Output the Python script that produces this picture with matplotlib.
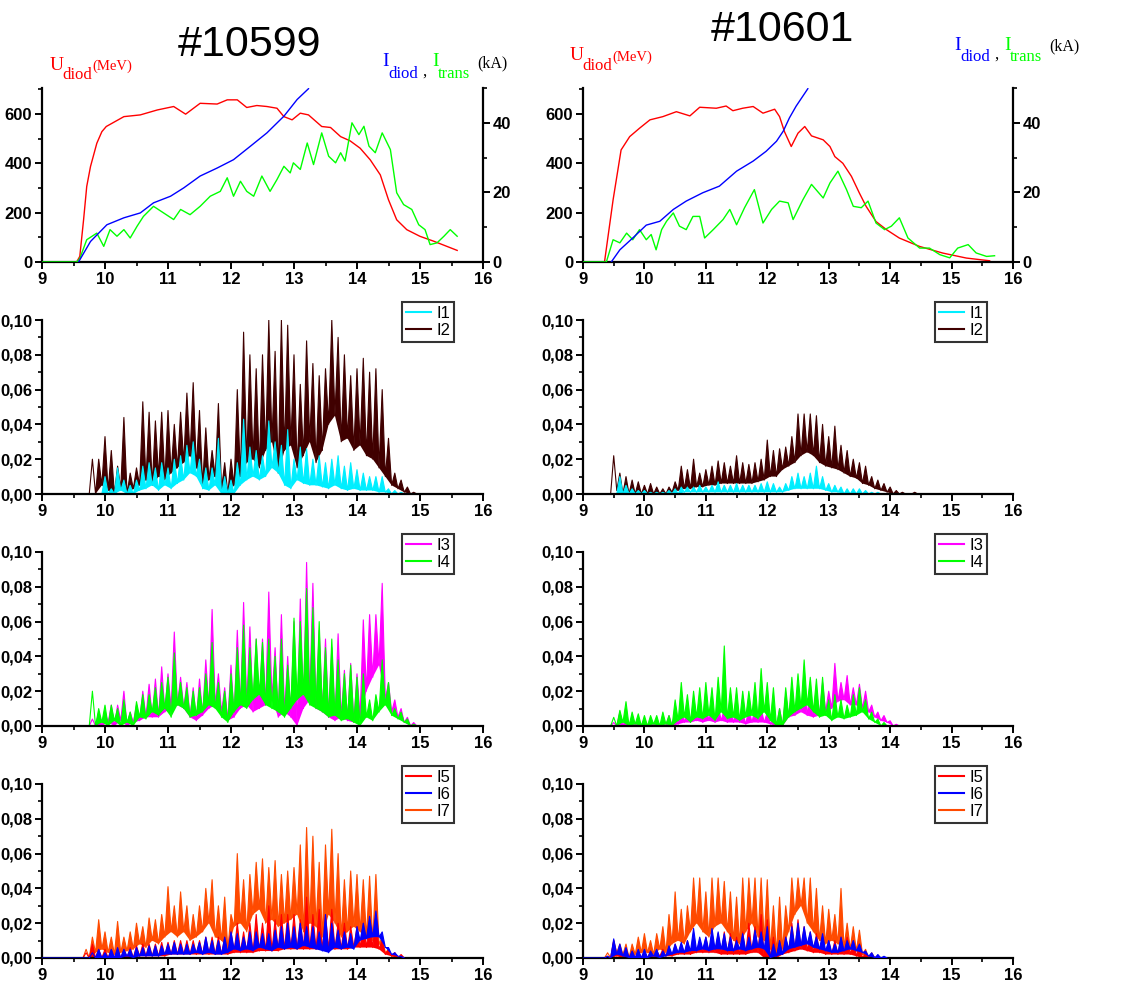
import matplotlib
matplotlib.use("Agg")
import matplotlib.pyplot as plt
import numpy as np
from matplotlib.ticker import MultipleLocator, FuncFormatter
from matplotlib.font_manager import FontProperties

# ---------------- top panels: diode voltage / currents ----------------
# shot 10599
u_t_a = [9.0, 9.55, 9.6, 9.66, 9.71, 9.77, 9.87, 9.95, 10.02, 10.3, 10.56, 10.83, 11.09, 11.28,
         11.51, 11.78, 11.94, 12.1, 12.25, 12.41, 12.57, 12.73, 12.84, 12.97, 13.1, 13.23,
         13.44, 13.58, 13.74, 13.89, 14.05, 14.21, 14.37, 14.5, 14.63, 14.79, 15.0, 15.22, 15.59]
u_a = [0, 0, 23, 171, 306, 387, 481, 528, 549, 589, 596, 616, 630, 599,
       643, 640, 657, 657, 626, 634, 630, 623, 589, 576, 603, 596,
       549, 545, 508, 491, 461, 414, 353, 252, 171, 131, 104, 84, 47]
idiod_t_a = [9.58, 9.77, 10.03, 10.3, 10.56, 10.77, 11.04, 11.25, 11.51, 11.78, 12.04,
             12.31, 12.57, 12.84, 13.05, 13.23]
idiod_a = [0, 5.9, 10.7, 12.7, 14.1, 17, 18.9, 21.3, 24.7, 27, 29.4, 33.3, 37.1, 41.9, 46.7, 49.8]
itrans_t_a = [9.0, 9.55, 9.6, 9.71, 9.87, 9.98, 10.08, 10.19, 10.3, 10.4, 10.51, 10.61, 10.77,
              10.93, 11.09, 11.2, 11.35, 11.51, 11.67, 11.83, 11.94, 12.04, 12.15,
              12.25, 12.36, 12.49, 12.62, 12.73, 12.84, 12.94, 12.99, 13.1, 13.21,
              13.31, 13.44, 13.55, 13.66, 13.74, 13.81, 13.92, 14.03, 14.11, 14.19,
              14.29, 14.4, 14.53, 14.63, 14.74, 14.87, 14.98, 15.08, 15.16, 15.27,
              15.38, 15.48, 15.59]
itrans_a = [0, 0, 1, 6.4, 8.3, 4.5, 9.3, 7.4, 9.3, 6.9, 10.3, 13.1, 16,
            14.1, 12.2, 15.1, 13.6, 16, 18.9, 20.3, 24.2, 18.9, 23.2,
            20.3, 18.9, 24.7, 20.3, 23.7, 27.5, 25.6, 28.5, 26.6, 34.2,
            28, 37.1, 30.4, 28.5, 31.4, 29, 40, 36.6, 39, 33.3,
            31.4, 37.1, 32.3, 19.9, 16.5, 15.1, 10.7, 9.3, 5, 5.5,
            7.4, 9.3, 7.4]

# shot 10601
u_t_b = [9.0, 9.35, 9.49, 9.62, 9.76, 9.92, 10.09, 10.3, 10.52, 10.74, 10.9, 11.17, 11.33,
         11.44, 11.6, 11.77, 11.93, 12.12, 12.2, 12.28, 12.39, 12.5, 12.61, 12.72,
         12.91, 13.02, 13.1, 13.23, 13.37, 13.5, 13.61, 13.77, 13.94, 14.15, 14.48,
         14.86, 15.24, 15.62]
u_b = [0, 0, 252, 454, 508, 542, 576, 589, 609, 592, 627, 623, 632,
       613, 623, 630, 603, 619, 589, 528, 468, 522, 549, 511,
       495, 468, 427, 400, 347, 279, 225, 164, 131, 97, 63,
       36, 16, 5]
idiod_t_b = [9.46, 9.6, 9.81, 10.03, 10.25, 10.47, 10.68, 10.95, 11.22, 11.5, 11.77, 11.98,
             12.15, 12.26, 12.36, 12.47, 12.66]
idiod_b = [0, 3.5, 6.9, 10.6, 11.7, 15.1, 17.5, 19.9, 21.8, 26.1, 29, 31.8, 34.7, 37.6, 41.4,
           44.8, 49.8]
itrans_t_b = [9.0, 9.38, 9.49, 9.6, 9.71, 9.81, 9.92, 10.03, 10.11, 10.19, 10.28,
              10.36, 10.47, 10.57, 10.68, 10.79, 10.9, 10.98, 11.12, 11.28, 11.39,
              11.5, 11.63, 11.79, 11.93, 12.07, 12.2, 12.34, 12.42, 12.58, 12.72,
              12.91, 13.02, 13.15, 13.29, 13.4, 13.53, 13.64, 13.77, 13.91, 14.02,
              14.15, 14.29, 14.48, 14.64, 14.81, 14.97, 15.1, 15.27, 15.4, 15.57, 15.7]
itrans_b = [0, 0, 6.4, 5.5, 8.3, 6.4, 9.3, 6.4, 7.9, 3.5, 9.3,
            11.7, 14.1, 10.3, 9.3, 13.1, 13.1, 6.9, 9.3, 12.2, 15.1,
            10.7, 15.6, 20.8, 11.2, 15.1, 17.5, 17, 12.2, 17.9, 22.3,
            18.4, 22.7, 26.1, 20.8, 16, 15.6, 17.5, 11.2, 9.3, 10.3,
            12.7, 6.9, 4, 4, 2.1, 1.2, 4, 5, 2.6, 1.6, 1.8]

# ---------------- detector signals (units 1e-3) ----------------
# each trace: start time, peak values every 0.1, trough values 0.05 later
i1_a_t0 = 9.9
i1_a_top = [0, 10, 3, 15, 8, 5, 8, 16, 18, 15, 18, 15, 20, 22, 28, 30, 20, 15, 15, 32,
            10, 8, 18, 43, 27, 25, 22, 42, 30, 28, 37, 20, 27, 26, 20, 22, 18, 20, 22, 16,
            18, 14, 12, 10, 10, 10, 3, 2, 1]
i1_a_low = [0, 0, 0, 2, 0, 0, 2, 3, 5, 2, 5, 3, 6, 8, 12, 10, 3, 2, 5, 0,
            0, 0, 5, 8, 10, 8, 10, 15, 12, 5, 3, 8, 6, 5, 5, 4, 3, 5, 3, 2,
            3, 2, 2, 2, 1, 1, 0, 0, 0]
i2_a_t0 = 9.8
i2_a_top = [20, 20, 33, 25, 16, 44, 12, 15, 53, 47, 42, 47, 48, 40, 47, 58, 64, 48, 38, 25,
            52, 18, 20, 60, 93, 80, 72, 80, 100, 82, 100, 97, 80, 63, 88, 75, 68, 72, 100, 90,
            80, 68, 72, 78, 70, 72, 60, 32, 12, 8, 4, 1]
i2_a_low = [0, 5, 2, 0, 3, 0, 3, 5, 8, 5, 10, 8, 12, 15, 18, 22, 15, 5, 8, 10,
            3, 0, 5, 10, 18, 20, 15, 25, 30, 12, 25, 28, 15, 22, 30, 18, 25, 40, 45, 30,
            32, 25, 28, 22, 20, 15, 10, 5, 3, 1, 0, 0]
i3_a_t0 = 9.8
i3_a_top = [4, 8, 8, 12, 12, 20, 8, 12, 20, 24, 27, 34, 30, 54, 28, 25, 22, 27, 38, 67,
            30, 22, 35, 55, 71, 57, 50, 50, 77, 45, 64, 40, 60, 73, 94, 82, 55, 50, 45, 53,
            32, 36, 30, 61, 64, 64, 82, 25, 15, 10, 5, 2]
i3_a_low = [0, 0, 2, 0, 3, 0, 2, 3, 5, 5, 5, 8, 10, 12, 10, 5, 3, 6, 10, 12,
            8, 3, 5, 10, 12, 8, 10, 12, 15, 5, 8, 5, 0, 10, 15, 10, 8, 5, 3, 5,
            3, 2, 5, 20, 28, 35, 15, 8, 5, 2, 0, 0]
i4_a_t0 = 9.8
i4_a_top = [20, 10, 12, 12, 10, 15, 8, 14, 18, 18, 22, 25, 28, 42, 25, 22, 20, 22, 30, 48,
            25, 20, 30, 45, 58, 45, 50, 48, 50, 40, 50, 35, 62, 60, 79, 68, 60, 45, 50, 38,
            30, 35, 28, 30, 15, 18, 38, 25, 10, 8, 4, 1]
i4_a_low = [0, 2, 0, 3, 0, 2, 0, 5, 4, 8, 6, 10, 5, 12, 10, 5, 6, 8, 12, 10,
            5, 2, 8, 12, 10, 15, 18, 12, 10, 8, 5, 10, 15, 18, 12, 10, 8, 5, 6, 3,
            4, 2, 0, 5, 3, 8, 12, 6, 4, 2, 0, 0]
i5_a_t0 = 9.7
i5_a_top = [3, 8, 5, 5, 5, 5, 5, 6, 7, 8, 8, 8, 9, 9, 10, 10, 10, 10, 10, 12,
            12, 12, 12, 15, 20, 15, 20, 25, 20, 30, 22, 25, 25, 25, 22, 35, 25, 28, 25, 28,
            20, 20, 18, 18, 20, 22, 22, 10, 5, 3, 2]
i5_a_low = [0, 0, 0, 0, 0, 0, 0, 0, 1, 1, 1, 1, 1, 2, 2, 2, 2, 2, 2, 2,
            2, 2, 2, 3, 3, 3, 3, 4, 4, 4, 4, 5, 5, 5, 5, 5, 5, 5, 5, 5,
            5, 5, 6, 6, 6, 6, 5, 2, 1, 0, 0]
i6_a_t0 = 9.8
i6_a_top = [3, 5, 3, 5, 6, 5, 5, 6, 6, 7, 7, 7, 8, 9, 8, 8, 8, 9, 12, 10,
            10, 12, 15, 14, 12, 15, 15, 14, 14, 16, 18, 20, 18, 20, 18, 18, 15, 25, 20, 16,
            15, 14, 18, 20, 24, 27, 15, 6, 3, 1]
i6_a_low = [0, 0, 0, 0, 0, 1, 0, 1, 1, 1, 1, 2, 2, 2, 2, 2, 3, 2, 3, 2,
            2, 3, 5, 4, 5, 4, 6, 5, 4, 6, 5, 6, 5, 7, 6, 5, 4, 3, 6, 5,
            6, 5, 10, 11, 12, 12, 6, 2, 1, 0]
i7_a_t0 = 9.7
i7_a_top = [5, 12, 22, 15, 12, 21, 12, 15, 20, 18, 23, 22, 25, 41, 30, 38, 30, 25, 30, 40,
            45, 30, 35, 25, 60, 45, 48, 55, 57, 52, 56, 48, 50, 52, 65, 75, 70, 55, 65, 74,
            60, 45, 50, 48, 45, 47, 48, 12, 5, 3, 1]
i7_a_low = [0, 3, 5, 3, 2, 3, 4, 5, 8, 6, 10, 8, 12, 15, 12, 15, 10, 12, 15, 20,
            12, 10, 5, 18, 20, 15, 25, 28, 20, 22, 18, 20, 22, 25, 15, 20, 18, 12, 25, 20,
            12, 15, 18, 15, 12, 10, 8, 3, 1, 0, 0]

i1_b_t0 = 9.5
i1_b_top = [0, 10, 5, 3, 2, 2, 1, 1, 1, 2, 3, 4, 4, 4, 5, 4, 5, 7, 5, 5,
            6, 5, 5, 5, 6, 7, 6, 4, 6, 10, 12, 10, 12, 16, 10, 6, 5, 4, 3, 3,
            3, 2, 1, 1, 0]
i1_b_low = [0, 0, 0, 0, 0, 0, 0, 0, 0, 0, 0, 1, 1, 1, 1, 1, 1, 1, 1, 1,
            1, 1, 1, 1, 1, 1, 1, 1, 2, 3, 3, 3, 3, 3, 2, 1, 1, 0, 0, 0,
            0, 0, 0, 0, 0]
i2_b_t0 = 9.5
i2_b_top = [22, 12, 10, 8, 7, 5, 6, 4, 3, 4, 7, 16, 14, 20, 12, 14, 16, 19, 18, 16,
            22, 18, 17, 18, 20, 31, 25, 26, 27, 33, 46, 46, 46, 45, 40, 33, 39, 28, 25, 20,
            18, 16, 10, 8, 6, 4, 2, 1, 0, 1]
i2_b_low = [2, 0, 0, 0, 0, 0, 0, 0, 0, 1, 2, 3, 3, 4, 4, 5, 5, 6, 6, 6,
            6, 6, 6, 7, 8, 10, 10, 14, 16, 18, 22, 24, 22, 18, 16, 15, 14, 12, 10, 9,
            6, 5, 3, 2, 1, 0, 0, 0, 0, 0]
i3_b_t0 = 9.5
i3_b_top = [2, 8, 5, 4, 4, 4, 3, 3, 2, 6, 8, 10, 10, 12, 12, 12, 12, 12, 10, 10,
            10, 8, 10, 10, 10, 8, 5, 10, 18, 20, 18, 25, 22, 20, 25, 20, 36, 25, 29, 22,
            24, 20, 12, 8, 6, 3, 1]
i3_b_low = [0, 0, 0, 0, 0, 0, 0, 0, 0, 0, 1, 2, 2, 3, 2, 3, 2, 3, 2, 2,
            2, 1, 2, 2, 2, 1, 0, 0, 5, 6, 8, 6, 5, 6, 8, 10, 14, 15, 12, 12,
            10, 8, 5, 3, 2, 0, 0]
i4_b_t0 = 9.5
i4_b_top = [5, 9, 14, 8, 7, 6, 6, 6, 8, 6, 15, 25, 18, 20, 22, 25, 22, 28, 46, 22,
            22, 20, 20, 25, 33, 25, 22, 10, 22, 28, 30, 38, 28, 27, 28, 15, 18, 15, 12, 18,
            22, 15, 8, 4, 2, 0]
i4_b_low = [0, 2, 0, 1, 0, 0, 1, 0, 1, 0, 3, 5, 2, 5, 4, 6, 3, 8, 4, 5,
            3, 5, 6, 4, 8, 3, 0, 0, 5, 8, 10, 12, 8, 5, 6, 3, 5, 4, 5, 6,
            8, 4, 2, 0, 0, 0]
i5_b_t0 = 9.4
i5_b_top = [1, 10, 6, 5, 4, 4, 4, 4, 4, 5, 6, 8, 8, 10, 12, 10, 12, 14, 14, 15,
            14, 12, 15, 20, 18, 25, 22, 12, 10, 12, 20, 22, 18, 15, 14, 12, 10, 10, 12, 12,
            10, 8, 3, 2, 1]
i5_b_low = [0, 1, 0, 0, 0, 0, 0, 0, 1, 1, 1, 2, 2, 2, 3, 3, 3, 3, 2, 2,
            2, 2, 2, 3, 3, 0, 0, 0, 2, 3, 4, 5, 4, 3, 3, 2, 2, 2, 2, 2,
            1, 0, 0, 0, 0]
i6_b_t0 = 9.4
i6_b_top = [1, 11, 8, 6, 4, 5, 5, 4, 5, 4, 7, 8, 9, 10, 17, 12, 12, 17, 15, 14,
            12, 10, 14, 12, 16, 15, 18, 8, 10, 12, 18, 20, 18, 15, 12, 14, 10, 8, 12, 10,
            10, 8, 4, 3, 2, 1]
i6_b_low = [0, 2, 1, 0, 0, 0, 0, 1, 0, 1, 2, 3, 3, 4, 4, 5, 4, 5, 5, 4,
            4, 5, 4, 5, 6, 5, 0, 1, 2, 5, 6, 7, 8, 6, 5, 4, 3, 3, 4, 5,
            4, 3, 1, 0, 0, 0]
i7_b_t0 = 9.4
i7_b_top = [3, 10, 8, 8, 8, 12, 14, 10, 14, 18, 25, 38, 28, 30, 46, 46, 38, 46, 46, 44,
            38, 35, 46, 46, 46, 46, 45, 30, 35, 30, 46, 46, 46, 46, 40, 30, 28, 25, 40, 20,
            18, 16, 5, 3, 1]
i7_b_low = [0, 3, 2, 0, 2, 3, 3, 2, 5, 3, 8, 10, 8, 15, 20, 15, 12, 18, 20, 15,
            10, 8, 15, 20, 12, 10, 5, 3, 5, 15, 25, 30, 20, 15, 10, 8, 10, 8, 6, 5,
            4, 2, 0, 0, 0]

# ---------------- figure ----------------
W, H = 1135, 981
fig = plt.figure(figsize=(W / 100, H / 100), dpi=100)

NARROW = ['Liberation Sans Narrow', 'Liberation Sans', 'DejaVu Sans']
SERIF = ['Liberation Serif', 'DejaVu Serif']


def tickfont():
    return FontProperties(family=NARROW, weight='bold', size=12)


def box(x0, y0, x1, y1):
    return [x0 / W, 1 - y1 / H, (x1 - x0) / W, (y1 - y0) / H]


def ptext(x, y, s, **kw):
    fig.text(x / W, 1 - y / H, s, va='center', ha='left', **kw)


def zigzag(t0, tops, lows):
    n = min(len(tops), len(lows))
    tt = [t0 + 0.1 * i for i in range(n)]
    tl = [t0 + 0.1 * i + 0.05 for i in range(n)]
    t, v = [], []
    for i in range(n):
        t += [tt[i], tl[i]]
        v += [tops[i], lows[i]]
    return np.array(t), np.array(v) * 1e-3, np.array(tl), np.array(lows[:n]) * 1e-3


def style_axis(ax, right=False):
    ax.spines['top'].set_visible(False)
    ax.spines['right'].set_visible(right)
    for s in ax.spines.values():
        s.set_linewidth(1.6)
    ax.tick_params(which='major', direction='out', length=5, width=1.4, pad=2)
    ax.tick_params(which='minor', direction='out', length=3, width=1.2)
    ax.xaxis.set_major_locator(MultipleLocator(1))
    ax.xaxis.set_minor_locator(MultipleLocator(0.5))
    for lab in ax.get_xticklabels() + ax.get_yticklabels():
        lab.set_fontproperties(tickfont())


comma = FuncFormatter(lambda v, p: f"{v:.2f}".replace('.', ','))
intfmt = FuncFormatter(lambda v, p: f"{v:.0f}")

cols_x = [(42, 483), (583, 1013)]
rows_y = [(88, 262), (320, 494), (552, 726), (784, 958)]

# top panels
top_data = [(u_t_a, u_a, idiod_t_a, idiod_a, itrans_t_a, itrans_a),
            (u_t_b, u_b, idiod_t_b, idiod_b, itrans_t_b, itrans_b)]
for c, (ut, uv, it, iv, tt, tv) in enumerate(top_data):
    x0, x1 = cols_x[c]
    ax = fig.add_axes(box(x0, rows_y[0][0], x1, rows_y[0][1]))
    ax2 = ax.twinx()
    ax.plot(ut, uv, color='#ff0000', lw=1.0)
    ax2.plot(tt, tv, color='#00ff00', lw=1.0)
    ax2.plot(it, iv, color='#0000ff', lw=1.0)
    ax.set_xlim(9, 16)
    ax.set_ylim(0, 705)
    ax2.set_ylim(0, 50)
    ax.yaxis.set_major_locator(MultipleLocator(200))
    ax.yaxis.set_minor_locator(MultipleLocator(100))
    ax2.yaxis.set_major_locator(MultipleLocator(20))
    ax2.yaxis.set_minor_locator(MultipleLocator(10))
    ax.yaxis.set_major_formatter(intfmt)
    ax2.yaxis.set_major_formatter(intfmt)
    style_axis(ax)
    ax2.spines['top'].set_visible(False)
    ax2.spines['left'].set_visible(False)
    ax2.spines['bottom'].set_visible(False)
    ax2.spines['right'].set_linewidth(1.6)
    ax2.tick_params(which='major', direction='out', length=5, width=1.4, pad=2)
    ax2.tick_params(which='minor', direction='out', length=3, width=1.2)
    for lab in ax2.get_yticklabels():
        lab.set_fontproperties(tickfont())

# signal panels
panels = [
    [  # shot 10599
        [('I1', '#00eeff', i1_a_t0, i1_a_top, i1_a_low, 2),
         ('I2', '#400000', i2_a_t0, i2_a_top, i2_a_low, 1)],
        [('I3', '#ff00ff', i3_a_t0, i3_a_top, i3_a_low, 1),
         ('I4', '#00ff00', i4_a_t0, i4_a_top, i4_a_low, 2)],
        [('I5', '#ff0000', i5_a_t0, i5_a_top, i5_a_low, 2),
         ('I6', '#0000ff', i6_a_t0, i6_a_top, i6_a_low, 3),
         ('I7', '#ff4a00', i7_a_t0, i7_a_top, i7_a_low, 1)],
    ],
    [  # shot 10601
        [('I1', '#00eeff', i1_b_t0, i1_b_top, i1_b_low, 2),
         ('I2', '#400000', i2_b_t0, i2_b_top, i2_b_low, 1)],
        [('I3', '#ff00ff', i3_b_t0, i3_b_top, i3_b_low, 1),
         ('I4', '#00ff00', i4_b_t0, i4_b_top, i4_b_low, 2)],
        [('I5', '#ff0000', i5_b_t0, i5_b_top, i5_b_low, 2),
         ('I6', '#0000ff', i6_b_t0, i6_b_top, i6_b_low, 3),
         ('I7', '#ff4a00', i7_b_t0, i7_b_top, i7_b_low, 1)],
    ],
]
legend_x = [402, 935]
for c in range(2):
    x0, x1 = cols_x[c]
    for r in range(3):
        y0, y1 = rows_y[r + 1]
        ax = fig.add_axes(box(x0, y0, x1, y1))
        handles = []
        for name, col, t0, top, low, z in panels[c][r]:
            t, v, tl, vl = zigzag(t0, top, low)
            # solid body between the troughs and the peaks
            ax.fill(np.concatenate([t, tl[::-1]]), np.concatenate([v, vl[::-1]]),
                    color=col, lw=0, zorder=z)
            ln, = ax.plot(np.concatenate([[9.0, t0 - 0.05], t]),
                          np.concatenate([[0.0, 0.0], v]),
                          color=col, lw=0.8, zorder=z, label=name)
            handles.append(ln)
        ax.set_xlim(9, 16)
        ax.set_ylim(0, 0.1)
        ax.yaxis.set_major_locator(MultipleLocator(0.02))
        ax.yaxis.set_minor_locator(MultipleLocator(0.01))
        ax.yaxis.set_major_formatter(comma)
        style_axis(ax)
        leg = fig.legend(handles=handles, loc='upper left',
                         bbox_to_anchor=(legend_x[c] / W, 1 - (y0 - 18) / H),
                         prop=FontProperties(family=NARROW, size=12),
                         frameon=True, fancybox=False, borderaxespad=0,
                         handlelength=1.5, handletextpad=0.3, borderpad=0.25,
                         labelspacing=0.1)
        leg.get_frame().set_edgecolor('black')
        leg.get_frame().set_linewidth(1.5)
        for h in leg.get_lines():
            h.set_linewidth(1.5)

# titles
fig.text(250 / W, 1 - 45 / H, '#10599', ha='center', va='center', size=31,
         family=['Liberation Sans', 'DejaVu Sans'])
fig.text(782 / W, 1 - 30 / H, '#10601', ha='center', va='center', size=31,
         family=['Liberation Sans', 'DejaVu Sans'])

# axis captions: (U x, U y, I x, I y) for each shot
captions = [(50, 65, 382, 62), (570, 56, 954, 45)]
for ux, uy, ix, iy in captions:
    ptext(ux, uy, 'U', color='red', size=14, family=SERIF)
    ptext(ux + 12, uy + 10, 'diod', color='red', size=12, family=SERIF)
    ptext(ux + 42, uy + 1, '(MeV)', color='red', size=10.5, family=SERIF)
    ptext(ix, iy, 'I', color='blue', size=14, family=SERIF)
    ptext(ix + 6, iy + 12, 'diod', color='blue', size=12, family=SERIF)
    ptext(ix + 40, iy + 10, ',', color='black', size=12, family=SERIF)
    ptext(ix + 50, iy, 'I', color='#00ff00', size=14, family=SERIF)
    ptext(ix + 56, iy + 12, 'trans', color='#00ff00', size=12, family=SERIF)
    ptext(ix + 95, iy + 1, '(kA)', color='black', size=11.5, family=SERIF)

fig.savefig('out.png', dpi=100)
